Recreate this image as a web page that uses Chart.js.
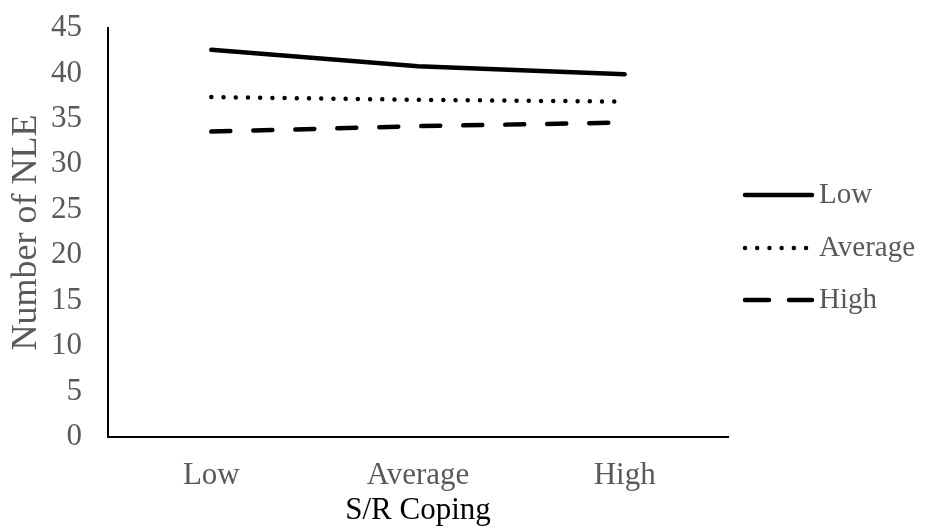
<!DOCTYPE html>
<html>
<head>
<meta charset="utf-8">
<script src="https://cdn.jsdelivr.net/npm/chart.js@4"></script>
<style>
  html, body { margin: 0; padding: 0; background: #fff; }
  #wrap { width: 930px; height: 529px; position: relative; }
</style>
</head>
<body>
<div id="wrap"><canvas id="chart"></canvas></div>
<script>
const categories = ["Low", "Average", "High"];
const seriesNames = ["Low", "Average", "High"];
const lowValues = [42.6, 40.8, 39.9];
const averageValues = [37.4, 37.1, 36.9];
const highValues = [33.6, 34.2, 34.6];
const yTicks = [0, 5, 10, 15, 20, 25, 30, 35, 40, 45];

const FONT = "'Liberation Serif', 'Times New Roman', serif";
const GRAY = "#595959";

// legend drawn on the right, from the dataset styles
const sideLegend = {
    id: "sideLegend",
    afterDraw(chart) {
        const ctx = chart.ctx;
        const x0 = 745, x1 = 812;
        const rows = [195, 248, 300];
        chart.data.datasets.forEach((ds, i) => {
            const y = rows[i];
            ctx.save();
            ctx.strokeStyle = ds.borderColor;
            ctx.lineWidth = ds.borderWidth;
            ctx.lineCap = ds.borderCapStyle;
            ctx.setLineDash(ds.legendDash || []);
            ctx.beginPath();
            ctx.moveTo(x0, y);
            ctx.lineTo(x1, y);
            ctx.stroke();
            ctx.setLineDash([]);
            ctx.fillStyle = GRAY;
            ctx.font = "29px " + FONT;
            ctx.textBaseline = "middle";
            ctx.fillText(ds.label, x1 + 7, y);
            ctx.restore();
        });
    }
};

new Chart(document.getElementById("chart"), {
    type: "line",
    data: {
        labels: categories,
        datasets: [
            {
                label: seriesNames[0],
                data: lowValues,
                borderColor: "#000",
                borderWidth: 4.5,
                borderCapStyle: "round",
                legendDash: [],
                pointRadius: 0
            },
            {
                label: seriesNames[1],
                data: averageValues,
                borderColor: "#000",
                borderWidth: 4.5,
                borderCapStyle: "round",
                borderDash: [0.01, 12.2],
                legendDash: [0.01, 12.2],
                pointRadius: 0
            },
            {
                label: seriesNames[2],
                data: highValues,
                borderColor: "#000",
                borderWidth: 4.5,
                borderCapStyle: "round",
                borderDash: [19, 23],
                legendDash: [24, 20],
                pointRadius: 0
            }
        ]
    },
    options: {
        responsive: true,
        maintainAspectRatio: false,
        animation: false,
        layout: { padding: { left: 0, right: 202, top: 28, bottom: 0 } },
        plugins: {
            legend: { display: false },
            tooltip: { enabled: false }
        },
        scales: {
            x: {
                offset: true,
                grid: { display: false, drawTicks: false, offset: true },
                border: { display: true, color: "#000", width: 2 },
                ticks: { color: GRAY, font: { family: FONT, size: 31 }, padding: 20 },
                title: {
                    display: true,
                    text: "S/R Coping",
                    color: "#000",
                    font: { family: FONT, size: 31 },
                    padding: { top: 0, bottom: 0 }
                },
                afterFit: s => { s.height = 92; }
            },
            y: {
                min: 0,
                max: 45,
                afterBuildTicks: s => { s.ticks = yTicks.map(v => ({ value: v })); },
                // invisible tick marks keep the labels off the axis without padding the top
                grid: { display: false, drawTicks: true, tickLength: 26, tickColor: "rgba(0,0,0,0)" },
                border: { display: true, color: "#000", width: 2 },
                ticks: { color: GRAY, font: { family: FONT, size: 31, lineHeight: 1 }, padding: 0 },
                title: {
                    display: true,
                    text: "Number of NLE",
                    color: GRAY,
                    font: { family: FONT, size: 36 },
                    padding: { top: 5, bottom: 0 }
                },
                afterFit: s => { s.width = 108; }
            }
        }
    },
    plugins: [sideLegend]
});
</script>
</body>
</html>
